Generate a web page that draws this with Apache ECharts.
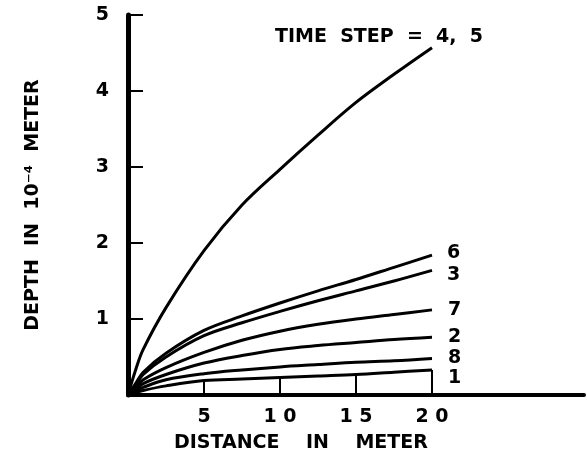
<!DOCTYPE html>
<html>
<head>
<meta charset="utf-8">
<script src="https://cdn.jsdelivr.net/npm/echarts@6/dist/echarts.min.js"></script>
<style>
  html, body { margin: 0; padding: 0; background: #fff; }
  #chart { width: 587px; height: 461px; }
</style>
</head>
<body>
<div id="chart"></div>
<script>
// distance along the x axis (meter)
const distance = [0, 0.5, 1, 2.5, 5, 7.5, 10, 12.5, 15, 17.5, 20];

// depth (10^-4 meter) per time step
const step45 = [0, 0.33, 0.6, 1.15, 1.9, 2.5, 2.97, 3.42, 3.85, 4.22, 4.57];
const step6 = [0, 0.15, 0.3, 0.55, 0.85, 1.04, 1.21, 1.37, 1.52, 1.68, 1.84];
const step3 = [0, 0.13, 0.27, 0.5, 0.78, 0.95, 1.1, 1.24, 1.37, 1.5, 1.64];
const step7 = [0, 0.1, 0.2, 0.36, 0.56, 0.72, 0.84, 0.93, 1.0, 1.06, 1.12];
const step2 = [0, 0.07, 0.15, 0.27, 0.42, 0.52, 0.6, 0.65, 0.69, 0.73, 0.76];
const step8 = [0, 0.05, 0.1, 0.2, 0.28, 0.33, 0.37, 0.4, 0.43, 0.45, 0.48];
const step1 = [0, 0.03, 0.06, 0.12, 0.19, 0.21, 0.23, 0.25, 0.27, 0.3, 0.33];

// labelled distances on the x axis
const xTickValues = [5, 10, 15, 20];

const FONT = 'DejaVu Sans';
const INK = '#000';

const pairs = (vals) => distance.map((d, i) => [d, vals[i]]);

const curve = (name, vals, labelText, offset) => ({
    name: name,
    type: 'line',
    data: pairs(vals),
    smooth: 0.35,
    symbol: 'none',
    lineStyle: { color: INK, width: 3 },
    endLabel: {
        show: true,
        formatter: labelText,
        color: INK,
        fontFamily: FONT,
        fontWeight: 'bold',
        fontSize: 19,
        offset: offset,
    },
});

const chart = echarts.init(document.getElementById('chart'));

const series = [
    curve('4,5', step45, 'TIME  STEP  =  4,  5', [-165, -11]),
    curve('6', step6, '6', [7, -2]),
    curve('3', step3, '3', [7, 5]),
    curve('7', step7, '7', [8, 0]),
    curve('2', step2, '2', [8, 0]),
    curve('8', step8, '8', [8, 0]),
    curve('1', step1, '1', [8, 8]),
];

// vertical markers from the axis up to curve 1
series[6].markLine = {
    silent: true,
    symbol: 'none',
    label: { show: false },
    lineStyle: { color: INK, width: 2, type: 'solid' },
    data: xTickValues.map(x => {
        const i = distance.indexOf(x);
        return [{ coord: [x, 0] }, { coord: [x, step1[i]] }];
    }),
};

chart.setOption({
    animation: false,
    backgroundColor: '#fff',
    grid: {
        left: 128,
        right: 0,
        top: 15,
        bottom: 66,
    },
    xAxis: {
        type: 'value',
        min: 0,
        max: 30,
        interval: 5,
        axisLine: { lineStyle: { color: INK, width: 4 } },
        axisTick: { show: false },
        splitLine: { show: false },
        axisLabel: {
            color: INK,
            fontFamily: FONT,
            fontWeight: 'bold',
            fontSize: 19,
            margin: 13,
            formatter: (v) => (xTickValues.indexOf(v) >= 0 ? String(v).split('').join(' ') : ''),
        },
    },
    yAxis: {
        type: 'value',
        min: 0,
        max: 5,
        interval: 1,
        name: 'DEPTH  IN  10\u207B\u2074  METER',
        nameLocation: 'middle',
        nameRotate: 90,
        nameGap: 85,
        nameTextStyle: {
            color: INK,
            fontFamily: FONT,
            fontWeight: 'bold',
            fontSize: 19,
        },
        axisLine: { show: true, lineStyle: { color: INK, width: 5 } },
        axisTick: { show: true, inside: true, length: 15, lineStyle: { color: INK, width: 2 } },
        splitLine: { show: false },
        axisLabel: {
            color: INK,
            fontFamily: FONT,
            fontWeight: 'bold',
            fontSize: 19,
            margin: 19,
            padding: [7, 0, 0, 0],
            formatter: (v) => (v === 0 ? '' : String(v)),
        },
    },
    graphic: [{
        type: 'text',
        left: 174,
        top: 434,
        style: {
            text: 'DISTANCE    IN    METER',
            fill: INK,
            font: 'bold 19px "DejaVu Sans"',
        },
    }],
    series: series,
});
</script>
</body>
</html>
